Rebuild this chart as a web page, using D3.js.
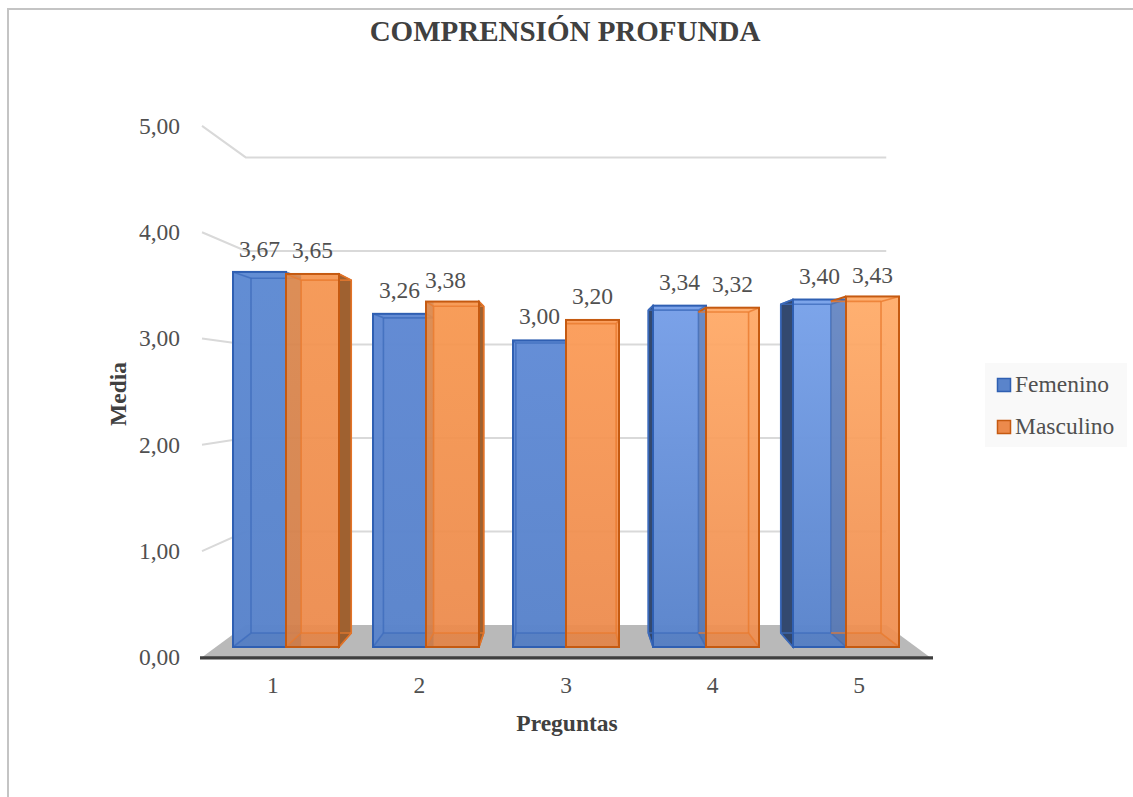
<!DOCTYPE html>
<html><head><meta charset="utf-8">
<script src="https://cdn.jsdelivr.net/npm/d3@7"></script>
<style>html,body{margin:0;padding:0;background:#fff}svg{display:block}text{font-family:"Liberation Serif",serif;fill:#505050}text.b{fill:#404040;font-weight:bold}</style>
</head><body><svg id="c" width="1133" height="797"></svg>
<script>
const categories = ["1","2","3","4","5"];
const seriesNames = ["Femenino","Masculino"];
const femenino = [3.67,3.26,3.00,3.34,3.40];
const masculino = [3.65,3.38,3.20,3.32,3.43];
const valueTicks = [0,1,2,3,4,5];
const values = [femenino, masculino];

const svg = d3.select("#c");
const W = 1133, H = 797, FS = 23.5;
// perspective: vanishing point and depth factors of each plane
const vp = [566,388], sBarBack = 0.946, sWall = 0.915, sFloorFront = 1.04, sCat = 1.047;
const x = d3.scalePoint(categories,[286,846]);
const sub = d3.scaleBand(seriesNames,[-53,53]);
const y = d3.scaleLinear([0,5],[647,136]);
const P = (px,py,s)=>[vp[0]+s*(px-vp[0]), vp[1]+s*(py-vp[1])];
const poly = pts => pts.map(p=>p.join(",")).join(" ");
const xL = 216, xR = 916;

// frame
svg.append("path").attr("d",`M8,${H} V9 H${W}`).attr("fill","none").attr("stroke","#c4c4c4").attr("stroke-width",2);

// title
svg.append("text").attr("class","b").attr("x",565).attr("y",41).attr("text-anchor","middle")
  .attr("font-size",29).text("COMPRENSIÓN PROFUNDA");

// gridlines (side wall + back wall)
const gridG = svg.append("g").attr("fill","none").attr("stroke","#d9d9d9").attr("stroke-width",2);
valueTicks.filter(v=>v>0).forEach(v=>{
  const a=P(xL,y(v),sFloorFront), b=P(xL,y(v),sWall), c=P(xR,y(v),sWall);
  gridG.append("polyline").attr("points",poly([a,b,c]));
});

// floor
svg.append("polygon").attr("fill","#b9b9b9").attr("points",poly([
  P(xL,y(0),sFloorFront),P(xL,y(0),sWall),P(xR,y(0),sWall),P(xR,y(0),sFloorFront)]));

// value axis labels
valueTicks.forEach(v=>{
  const p=P(xL,y(v),sFloorFront);
  svg.append("text").attr("x",180).attr("y",p[1]+8).attr("text-anchor","end").attr("font-size",FS)
    .text(d3.format(".2f")(v).replace(".",","));
});
// category labels
categories.forEach(c=>{
  const p=P(x(c),y(0),sCat);
  svg.append("text").attr("x",p[0]).attr("y",693).attr("text-anchor","middle").attr("font-size",FS).text(c);
});
// axis baseline
const a0=P(xL,y(0),sFloorFront), a1=P(xR,y(0),sFloorFront);
svg.append("line").attr("x1",200).attr("x2",933).attr("y1",a0[1]+.5).attr("y2",a1[1]+.5)
  .attr("stroke","#3f3f3f").attr("stroke-width",3.2);

// bars
const defs = svg.append("defs");
const style = {
  Femenino:{edge:"#2f5fb2",inner:"#3f6dbd",dark:"#33496f",grad:[["#5f8bd3","#5a84cb"],["#6089d3","#5a84cb"],["#628cd6","#5a84cb"],["#78a0e8","#5a84cb"],["#7aa3ea","#5a84cb"]]},
  Masculino:{edge:"#c55a11",inner:"#ea7a2e",dark:"#9f6130",grad:[["#f59550","#ec8a4c"],["#f7974f","#ec8a4c"],["#fb9a55","#ec8a4c"],["#ffa966","#ef8e50"],["#ffab68","#ef8e50"]]}
};
seriesNames.forEach((name,si)=>{
  const st=style[name];
  categories.forEach((c,ci)=>{
    const v=values[si][ci];
    const gid=`g${si}${ci}`;
    const g=defs.append("linearGradient").attr("id",gid).attr("x1",0).attr("x2",0).attr("y1",0).attr("y2",1);
    g.append("stop").attr("offset","0").attr("stop-color",st.grad[ci][0]);
    g.append("stop").attr("offset","1").attr("stop-color",st.grad[ci][1]);
    const x0=x(c)+sub(name), x1=x0+sub.bandwidth(), yt=y(v), yb=y(0);
    const F={tl:[x0,yt],tr:[x1,yt],br:[x1,yb],bl:[x0,yb]};
    const B={tl:P(x0,yt,sBarBack),tr:P(x1,yt,sBarBack),br:P(x1,yb,sBarBack),bl:P(x0,yb,sBarBack)};
    const bar=svg.append("g");
    const leftExt=B.tl[0]<F.tl[0], rightExt=B.tr[0]>F.tr[0];
    // outward-visible walls
    if(si===0 && leftExt) bar.append("polygon").attr("points",poly([F.tl,B.tl,B.bl,F.bl])).attr("fill",st.dark)
      .attr("stroke",st.edge).attr("stroke-width",1.5);
    if(si===1 && rightExt) bar.append("polygon").attr("points",poly([F.tr,B.tr,B.br,F.br])).attr("fill",st.dark)
      .attr("stroke",st.edge).attr("stroke-width",1.5);
    // inner wall over the neighbour, translucent and without outline
    if(si===1 && leftExt) {
      bar.append("polygon").attr("points",poly([F.tl,B.tl,B.bl,F.bl])).attr("fill","#5a6e9a").attr("fill-opacity",.45);
      bar.append("line").attr("x1",F.tl[0]).attr("y1",F.tl[1]).attr("x2",B.tl[0]).attr("y2",B.tl[1]).attr("stroke",st.edge).attr("stroke-width",2);
    }
    // front face
    bar.append("rect").attr("x",x0).attr("y",yt).attr("width",x1-x0).attr("height",yb-yt)
      .attr("fill",`url(#${gid})`).attr("fill-opacity",si===1?.94:.98);
    // box bottom, slightly darker
    bar.append("polygon").attr("points",poly([F.bl,F.br,B.br,B.bl])).attr("fill","#000").attr("fill-opacity",.035);
    // overlap of the orange front with the blue box behind
    if(si===1 && !leftExt) {
      const bb=P(x0,yt,sBarBack);
      if(bb[0]-x0>2) bar.append("rect").attr("x",x0).attr("y",yt).attr("width",bb[0]-x0).attr("height",yb-yt).attr("fill","#7a5a4a").attr("fill-opacity",.2);
    }
    // inner (back) edges seen through the front
    const seg=(a,b)=>bar.append("line").attr("x1",a[0]).attr("y1",a[1]).attr("x2",b[0]).attr("y2",b[1])
      .attr("stroke",st.inner).attr("stroke-width",1.6).attr("stroke-opacity",.8);
    seg(B.tl,B.tr); seg(B.bl,B.br);
    if(!(si===1 && leftExt)) seg(B.tl,B.bl);
    if(!(si===0 && rightExt)) seg(B.tr,B.br);
    ["tl","tr","br","bl"].forEach(k=>{
      if(si===1 && leftExt && (k==="tl"||k==="bl")) return;
      seg(F[k],B[k]);
    });
    // front outline
    bar.append("rect").attr("x",x0).attr("y",yt).attr("width",x1-x0).attr("height",yb-yt)
      .attr("fill","none").attr("stroke",st.edge).attr("stroke-width",2);
  });
});

// data labels
const labelNudge = {"1,1":[-7,2],"4,1":[0,3],"0,0":[0,1]};
seriesNames.forEach((name,si)=>{
  categories.forEach((c,ci)=>{
    const v=values[si][ci];
    const n=labelNudge[ci+","+si]||[0,0];
    svg.append("text").attr("x",x(c)+sub(name)+sub.bandwidth()/2+n[0]).attr("y",y(v)-16+n[1])
      .attr("text-anchor","middle").attr("font-size",FS).text(d3.format(".2f")(v).replace(".",","));
  });
});

// axis titles
svg.append("text").attr("class","b").attr("x",567).attr("y",731).attr("text-anchor","middle").attr("font-size",FS).text("Preguntas");
svg.append("text").attr("class","b").attr("transform","translate(126,394) rotate(-90)").attr("text-anchor","middle").attr("font-size",FS).text("Media");

// legend
svg.append("rect").attr("x",985).attr("y",363).attr("width",142).attr("height",84).attr("fill","#f9f9f9");
seriesNames.forEach((name,i)=>{
  const ly=385+i*42, st=style[name];
  svg.append("rect").attr("x",997.5).attr("y",ly-6.5).attr("width",13).attr("height",13)
    .attr("fill",st.grad[0][1]).attr("stroke",st.edge).attr("stroke-width",1.5);
  svg.append("text").attr("x",1015).attr("y",ly+7).attr("font-size",FS).text(name);
});
</script></body></html>
